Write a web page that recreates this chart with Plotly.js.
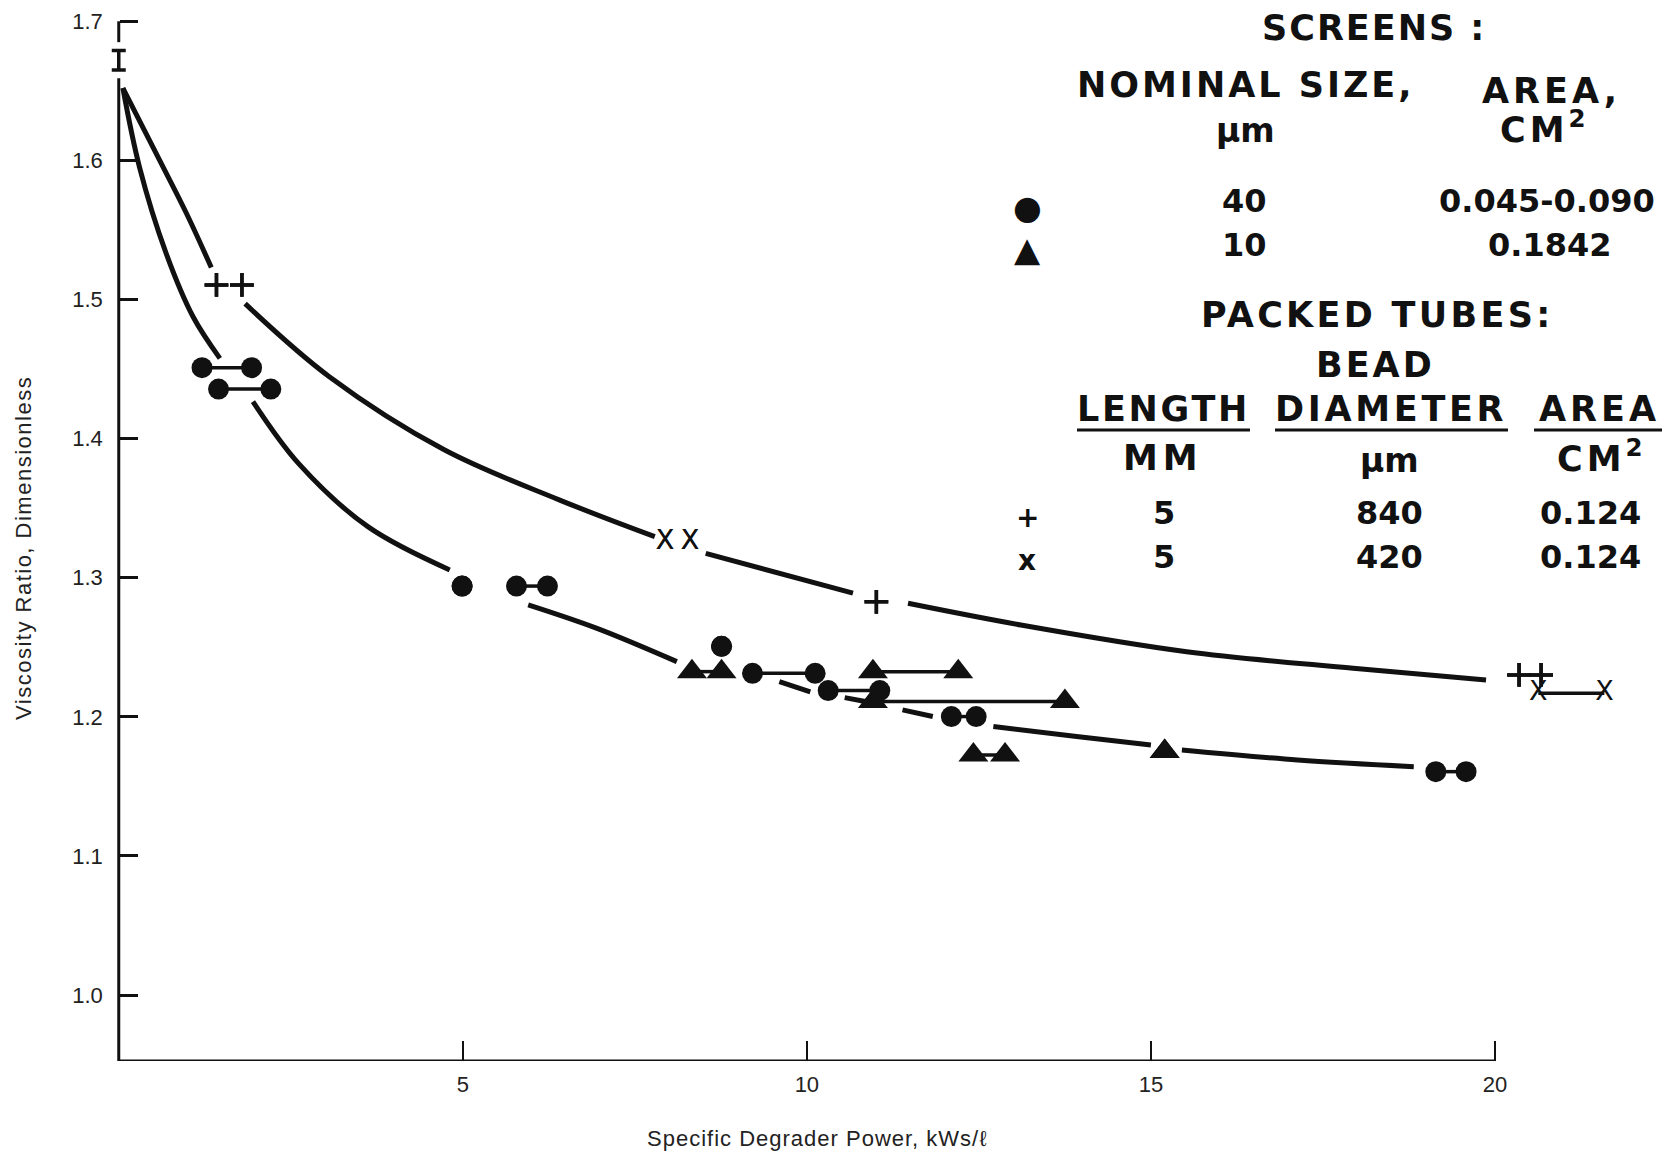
<!DOCTYPE html>
<html>
<head>
<meta charset="utf-8">
<script src="https://cdn.plot.ly/plotly-3.0.1.min.js"></script>
<style>body{margin:0;background:#fff;}</style>
</head>
<body>
<div id="chart" style="width:1667px;height:1153px;"></div>
<script>
// ---------------- DATA ----------------
// Screens, 40 um: each measurement spans xLow..xHigh at ratio y
const circleXLow  = [1.21, 1.45, 4.99, 5.78, 8.76, 9.21, 10.31, 12.10, 19.14];
const circleXHigh = [1.93, 2.21, 4.99, 6.23, 8.76, 10.12, 11.06, 12.46, 19.58];
const circleY     = [1.451, 1.4356, 1.294, 1.294, 1.2507, 1.2313, 1.2189, 1.2002, 1.1606];
// Screens, 10 um
const triXLow  = [8.33, 10.96, 10.96, 12.42, 15.20];
const triXHigh = [8.76, 12.20, 13.75, 12.88, 15.20];
const triY     = [1.2325, 1.2325, 1.211, 1.1726, 1.175];
// Packed tubes, 840 um beads
const plusXLow  = [1.42, 1.79, 11.01, 20.35, 20.67];
const plusXHigh = [1.42, 1.79, 11.01, 20.35, 20.67];
const plusY     = [1.5105, 1.5105, 1.2827, 1.2301, 1.2301];
// Packed tubes, 420 um beads
const crossXLow  = [7.94, 8.30, 20.63];
const crossXHigh = [7.94, 8.30, 21.59];
const crossY     = [1.3255, 1.3255, 1.217];
// Starting value (x = 0) with its spread
const startX = [0];
const startY = [1.672];
const startErr = [0.007];
// Hand-drawn fitted curves (null = gap in the drawn line)
const upperX = [0.06, 0.595, 0.983, 1.345, null, 1.836, 3.06, 4.73, 6.40, 7.79, null, 8.53, 10.67, null, 11.47, 13.11, 15.52, 17.94, 19.87];
const upperY = [1.652, 1.600, 1.562, 1.523, null, 1.497, 1.4445, 1.392, 1.356, 1.3295, null, 1.3175, 1.2889, null, 1.2816, 1.266, 1.2468, 1.2349, 1.2265];
const lowerX = [0.06, 0.30, 0.69, 1.08, 1.47, null, 1.95, 2.615, 3.62, 4.81, null, 5.95, 6.95, 8.11, null, 9.60, 10.05, null, 10.55, 10.85, null, 11.39, 11.83, null, 12.71, 13.92, 15.0, null, 15.45, 17.13, 18.82];
const lowerY = [1.652, 1.5954, 1.533, 1.4876, 1.4577, null, 1.4266, 1.382, 1.3367, 1.3056, null, 1.2805, 1.2636, 1.2397, null, 1.2253, 1.218, null, 1.2138, 1.211, null, 1.205, 1.2002, null, 1.193, 1.1858, 1.1798, null, 1.1762, 1.169, 1.1642];
// Axis ticks
const xTicks = [5, 10, 15, 20];
const yTicks = [1.0, 1.1, 1.2, 1.3, 1.4, 1.5, 1.6, 1.7];
// Legend table
const screenSizes = ['40', '10'];
const screenAreas = ['0.045-0.090', '0.1842'];
const tubeLengths = ['5', '5'];
const tubeBeads   = ['840', '420'];
const tubeAreas   = ['0.124', '0.124'];

// ---------------- LAYOUT CONSTANTS ----------------
const X_RANGE = [-0.2, 22.5];
const Y_RANGE = [0.9526, 1.7153];
const X_AXIS_END = 20;
const Y_AXIS_TOP = 1.7;
const Y_AXIS_BREAK = [1.659, 1.685];   // gap in the y axis where the start bar sits
const M_LEFT = 105, M_BOTTOM = 92, W = 1667, H = 1153;
const PLOT_W = W - M_LEFT, PLOT_H = H - M_BOTTOM;
const BLACK = '#111';

function ranges(lo, hi, y) {
  const xs = [], ys = [];
  for (let i = 0; i < y.length; i++) {
    xs.push(lo[i], hi[i], null);
    ys.push(y[i], y[i], null);
  }
  return {x: xs, y: ys};
}

const c = ranges(circleXLow, circleXHigh, circleY);
const t = ranges(triXLow, triXHigh, triY);
const p = ranges(plusXLow, plusXHigh, plusY);
const k = ranges(crossXLow, crossXHigh, crossY);

const traces = [
  {x: upperX, y: upperY, mode: 'lines', line: {color: BLACK, width: 5, shape: 'spline', smoothing: 1}, connectgaps: false},
  {x: lowerX, y: lowerY, mode: 'lines', line: {color: BLACK, width: 5, shape: 'spline', smoothing: 1}, connectgaps: false},
  {x: c.x, y: c.y, mode: 'lines+markers', line: {color: BLACK, width: 3.5}, marker: {symbol: 'circle', size: 21, color: BLACK}},
  {x: t.x, y: t.y, mode: 'lines+markers', line: {color: BLACK, width: 3.5}, marker: {symbol: 'triangle-up', size: 26, color: BLACK}},
  {x: p.x, y: p.y, mode: 'lines+markers', line: {color: BLACK, width: 3.5}, marker: {symbol: 'cross-thin-open', size: 17, line: {color: BLACK, width: 3.5}}, cliponaxis: false},
  {x: k.x, y: k.y, mode: 'lines+text', line: {color: BLACK, width: 3.5}, text: k.x.map(v => v === null ? '' : 'X'),
   textposition: 'middle center', textfont: {family: 'DejaVu Sans', size: 27, color: BLACK}, cliponaxis: false},
  {x: startX, y: startY, mode: 'markers', marker: {size: 1, color: 'rgba(0,0,0,0)'}, cliponaxis: false,
   error_y: {type: 'data', array: startErr, visible: true, color: BLACK, thickness: 3.5, width: 7}}
];

// pixel -> paper helpers for the annotation table
const px = v => (v - M_LEFT) / PLOT_W;
const py = v => (PLOT_H - v) / PLOT_H;
const FAM = 'DejaVu Sans, Verdana, sans-serif';
function lab(text, x, y, spacing, size) {
  return {text: '<span style="letter-spacing:' + spacing + 'px">' + text + '</span>', x: px(x), y: py(y),
          xref: 'paper', yref: 'paper', xanchor: 'center', yanchor: 'middle', showarrow: false,
          font: {family: FAM, size: size || 35, color: BLACK, weight: 700}};
}
const ann = [
  lab('SCREENS :', 1374, 28, 2),
  lab('NOMINAL SIZE,', 1246, 85, 3),
  lab('AREA,', 1551, 91, 4),
  lab('μm', 1245, 131, 0, 33),
  lab('CM<sup>2</sup>', 1545, 127, 4),
  lab(screenSizes[0], 1244, 201, 0, 32),
  lab(screenAreas[0], 1547, 201, 0, 32),
  lab(screenSizes[1], 1244, 245, 0, 32),
  lab(screenAreas[1], 1549, 245, 0, 32),
  lab('PACKED TUBES:', 1377, 315, 3.3),
  lab('BEAD', 1375, 365, 3),
  lab('LENGTH', 1163, 409, 2.7),
  lab('DIAMETER', 1391, 409, 3.7),
  lab('AREA', 1599, 409, 4),
  lab('MM', 1163, 458, 5),
  lab('μm', 1389, 461, 0, 33),
  lab('CM<sup>2</sup>', 1602, 456, 4),
  lab(tubeLengths[0], 1164, 513, 0, 32),
  lab(tubeBeads[0], 1389, 513, 0, 32),
  lab(tubeAreas[0], 1590, 513, 0, 32),
  lab(tubeLengths[1], 1164, 557, 0, 32),
  lab(tubeBeads[1], 1389, 557, 0, 32),
  lab(tubeAreas[1], 1590, 557, 0, 32),
  {text: '●', x: px(1027), y: py(207), xref: 'paper', yref: 'paper', showarrow: false, xanchor: 'center', yanchor: 'middle', font: {family: 'DejaVu Sans', size: 33, color: BLACK}},
  {text: '▲', x: px(1027), y: py(249), xref: 'paper', yref: 'paper', showarrow: false, xanchor: 'center', yanchor: 'middle', font: {family: 'DejaVu Sans', size: 34, color: BLACK}},
  {text: '+', x: px(1027), y: py(517), xref: 'paper', yref: 'paper', showarrow: false, xanchor: 'center', yanchor: 'middle', font: {family: 'DejaVu Sans', size: 28, color: BLACK, weight: 700}},
  {text: 'x', x: px(1027), y: py(560), xref: 'paper', yref: 'paper', showarrow: false, xanchor: 'center', yanchor: 'middle', font: {family: 'DejaVu Sans', size: 28, color: BLACK, weight: 700}},
  // axis titles
  {text: '<span style="letter-spacing:1.5px">Viscosity Ratio, Dimensionless</span>', textangle: -90, x: px(23), y: py(548),
   xref: 'paper', yref: 'paper', showarrow: false, xanchor: 'center', yanchor: 'middle',
   font: {family: 'Liberation Sans, Arial, sans-serif', size: 22, color: '#222'}},
  {text: '<span style="letter-spacing:1px">Specific Degrader Power, kWs/ℓ</span>', x: px(817), y: py(1138),
   xref: 'paper', yref: 'paper', showarrow: false, xanchor: 'center', yanchor: 'middle',
   font: {family: 'Liberation Sans, Arial, sans-serif', size: 22, color: '#222'}}
];

const ul = (x0, x1) => ({type: 'line', xref: 'paper', yref: 'paper', x0: px(x0), x1: px(x1), y0: py(430), y1: py(430), line: {color: BLACK, width: 3}});
const axisLine = (x0, x1, y0, y1) => ({type: 'line', xref: 'x', yref: 'y', x0: x0, x1: x1, y0: y0, y1: y1, line: {color: BLACK, width: 3}});
const shapes = [
  axisLine(0, X_AXIS_END, Y_RANGE[0], Y_RANGE[0]),
  axisLine(0, 0, Y_RANGE[0], Y_AXIS_BREAK[0]),
  axisLine(0, 0, Y_AXIS_BREAK[1], Y_AXIS_TOP),
  ul(1077, 1250), ul(1275, 1508), ul(1534, 1662)
];

const layout = {
  width: W, height: H,
  margin: {l: M_LEFT, r: 0, t: 0, b: M_BOTTOM, pad: 0},
  paper_bgcolor: '#fff', plot_bgcolor: '#fff',
  showlegend: false,
  xaxis: {range: X_RANGE, tickvals: xTicks, ticks: 'inside', ticklen: 20, tickwidth: 2, tickcolor: BLACK,
          showgrid: false, zeroline: false, showline: false, ticklabelstandoff: 8,
          tickfont: {family: 'Liberation Sans, Arial, sans-serif', size: 22, color: '#222'}},
  yaxis: {range: Y_RANGE, tickvals: yTicks, tickformat: '.1f', ticks: 'inside', ticklen: 18, tickwidth: 3, tickcolor: BLACK,
          anchor: 'free', position: (0 - X_RANGE[0]) / (X_RANGE[1] - X_RANGE[0]),
          showgrid: false, zeroline: false, showline: false, ticklabelstandoff: 16,
          tickfont: {family: 'Liberation Sans, Arial, sans-serif', size: 22, color: '#222'}},
  annotations: ann,
  shapes: shapes
};

Plotly.newPlot('chart', traces, layout, {displayModeBar: false, staticPlot: true});
</script>
</body>
</html>
